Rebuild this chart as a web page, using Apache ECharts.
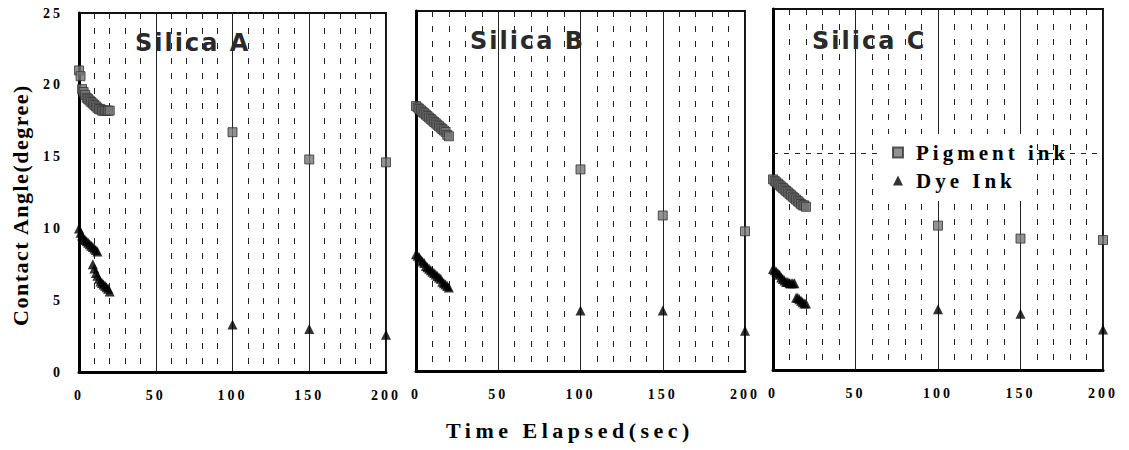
<!DOCTYPE html>
<html><head><meta charset="utf-8">
<script src="https://cdn.jsdelivr.net/npm/echarts@6/dist/echarts.min.js"></script>
<style>html,body{margin:0;padding:0;background:#fff}#chart{width:1129px;height:450px}</style>
</head><body><div id="chart"></div>
<script>
const panelNames = ['Silica A', 'Silica B', 'Silica C'];
const seriesNames = ['Pigment ink', 'Dye Ink'];
const xTitle = 'Time Elapsed(sec)';
const yTitle = 'Contact Angle(degree)';
const xTicks = [0, 50, 100, 150, 200];
const yTicks = [0, 5, 10, 15, 20, 25];
const timeSec = [0,1,2,3,4,5,6,7,8,9,10,11,12,13,14,15,16,17,18,19,20,100,150,200];
const dyeTimeA = [0,1,2,3,4,5,6,7,8,9,10,11,12, 9,10,11,12,13,14,15,16,17,18,19,20, 100,150,200];
const pigmentA = [21.0,20.6,19.7,19.5,19.3,19.1,19.0,18.9,18.8,18.7,18.6,18.5,18.4,18.3,18.3,18.2,18.2,18.2,18.2,18.2,18.2,16.7,14.8,14.6];
const dyeA = [10.0,9.7,9.5,9.3,9.2,9.1,9.0,8.9,8.8,8.7,8.6,8.5,8.4, 7.5,7.2,6.9,6.7,6.5,6.3,6.2,6.1,6.0,5.9,5.8,5.6, 3.3,3.0,2.6];
const pigmentB = [18.4,18.3,18.2,18.1,18.0,17.9,17.8,17.7,17.6,17.5,17.4,17.3,17.2,17.1,17.0,16.9,16.8,16.7,16.6,16.4,16.3,14.0,10.8,9.7];
const dyeB = [8.1,8.0,7.9,7.7,7.6,7.5,7.3,7.2,7.1,7.0,6.9,6.8,6.7,6.6,6.5,6.4,6.2,6.1,6.0,5.9,5.8,4.2,4.2,2.8];
const pigmentC = [13.2,13.1,13.0,12.9,12.8,12.7,12.6,12.5,12.4,12.3,12.2,12.1,12.0,11.9,11.8,11.7,11.6,11.5,11.4,11.4,11.3,10.0,9.1,9.0];
const dyeC = [7.0,6.9,6.8,6.7,6.6,6.4,6.3,6.2,6.1,6.1,6.0,6.0,6.0,6.0,5.0,5.0,4.9,4.8,4.7,4.6,4.6,4.2,3.9,2.8];
const guideLineC = 15;

const pair = (xs, ys) => ys.map((v, i) => [xs[i], v]);
const panels = [
  { pig: pair(timeSec, pigmentA), dye: pair(dyeTimeA, dyeA) },
  { pig: pair(timeSec, pigmentB), dye: pair(timeSec, dyeB) },
  { pig: pair(timeSec, pigmentC), dye: pair(timeSec, dyeC) }
];
const grids = [
  { left: 79, top: 13, width: 307, height: 359 },
  { left: 416, top: 11, width: 329, height: 360 },
  { left: 773, top: 9, width: 330, height: 361 }
];
const titlePos = [[135, 45], [470, 43], [812, 43]];
const SERIF = "'Liberation Serif', 'Times New Roman', serif";

const chart = echarts.init(document.getElementById('chart'), null, { renderer: 'svg' });
const option = {
  animation: false,
  backgroundColor: '#fff',
  grid: grids.map(g => Object.assign({ show: true, borderColor: '#111', borderWidth: 2, backgroundColor: 'transparent' }, g)),
  xAxis: grids.map((g, i) => ({
    type: 'value', gridIndex: i, min: xTicks[0], max: xTicks[xTicks.length - 1], interval: 50,
    axisLine: { show: true, onZero: false, lineStyle: { color: '#000', width: 3 } },
    axisTick: { show: false },
    axisLabel: { show: true, margin: 16, color: '#000', fontFamily: SERIF, fontWeight: 'bold', fontSize: 14 },
    splitLine: { show: true, lineStyle: { color: '#222', width: 1 } },
    minorTick: { show: false, splitNumber: 5 },
    minorSplitLine: { show: true, lineStyle: { color: '#222', width: 1, type: [6, 9] } }
  })),
  yAxis: grids.map((g, i) => ({
    type: 'value', gridIndex: i, min: yTicks[0], max: yTicks[yTicks.length - 1], interval: 5,
    axisLine: { show: true, onZero: false, lineStyle: { color: '#000', width: 3 } },
    axisTick: { show: false },
    axisLabel: { show: i === 0, margin: 16, color: '#000', fontFamily: SERIF, fontWeight: 'bold', fontSize: 14 },
    splitLine: { show: false }
  })),
  legend: {
    orient: 'vertical', left: 880, top: 134, z: 20,
    backgroundColor: '#fff', padding: [8, 8, 10, 12], itemGap: 7,
    itemWidth: 10, itemHeight: 10,
    data: [
      { name: seriesNames[0], icon: 'rect' },
      { name: seriesNames[1], icon: 'triangle' }
    ],
    textStyle: { fontFamily: SERIF, fontWeight: 'bold', fontSize: 21, color: '#000', padding: [0, 0, 0, 8] }
  },
  graphic: [
    ...panelNames.map((t, i) => ({
      type: 'text', left: titlePos[i][0], top: titlePos[i][1] - 14, z: 10,
      style: { text: t, fontFamily: "'DejaVu Sans', Verdana, sans-serif", fontWeight: 'bold', fontSize: 24, fill: '#2a2a2a' }
    })),
    { type: 'text', x: 570, y: 430, z: 10,
      style: { text: xTitle, fontFamily: SERIF, fontWeight: 'bold', fontSize: 22, fill: '#000', align: 'center', verticalAlign: 'middle' } },
    { type: 'text', x: 20, y: 205, rotation: Math.PI / 2, z: 10,
      style: { text: yTitle, fontFamily: SERIF, fontWeight: 'bold', fontSize: 22, fill: '#000', align: 'center', verticalAlign: 'middle' } }
  ],
  series: []
};
panels.forEach((p, i) => {
  option.series.push({
    name: seriesNames[0], type: 'scatter', xAxisIndex: i, yAxisIndex: i, data: p.pig,
    symbol: 'rect', symbolSize: 9, clip: false, z: 3,
    itemStyle: { color: '#777', borderColor: '#333', borderWidth: 1 },
    markLine: i === 2 ? {
      silent: true, symbol: 'none', label: { show: false }, z: 1,
      lineStyle: { color: '#222', width: 1, type: [5, 6] },
      data: [{ yAxis: guideLineC }]
    } : undefined
  });
  option.series.push({
    name: seriesNames[1], type: 'scatter', xAxisIndex: i, yAxisIndex: i, data: p.dye,
    symbol: 'triangle', symbolSize: 10, clip: false, z: 3,
    itemStyle: { color: '#000' }
  });
});
chart.setOption(option);

function spaceText() {
  document.querySelectorAll('#chart text').forEach(el => {
    const t = el.textContent.trim();
    let ls = null;
    if (/^\d+$/.test(t)) ls = '3px';
    else if (t === xTitle) ls = '4.5px';
    else if (t === yTitle) ls = '1.5px';
    else if (seriesNames.indexOf(t) >= 0) ls = '4px';
    else if (panelNames.indexOf(t) >= 0) ls = '2px';
    if (ls) el.style.letterSpacing = ls;
  });
}
spaceText();
chart.on('finished', spaceText);
setTimeout(spaceText, 50);
</script></body></html>
